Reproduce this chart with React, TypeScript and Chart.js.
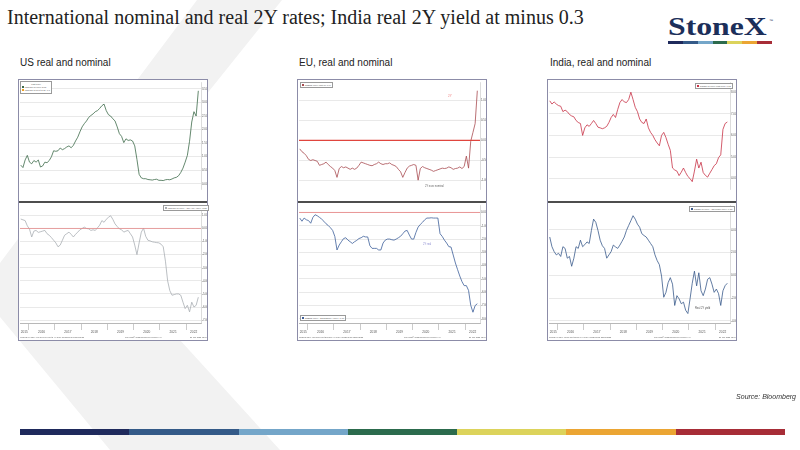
import { useEffect, useRef } from 'react';
import { Chart, registerables } from 'chart.js';

Chart.register(...registerables);

// monthly readings, Sep 2015 .. Jun 2022 (82 months)
const FIRST_MONTH = 2015 + 8 / 12 + 1 / 24;
const X_MIN = 2015.68;
const X_MAX = 2022.56;
const YEARS = [2015, 2016, 2017, 2018, 2019, 2020, 2021, 2022];

const usNominal = [
  0.69, 0.6, 0.88, 1.05,
  0.8, 0.74, 0.86, 0.8, 0.88, 0.62, 0.66, 0.8, 0.78, 0.86, 1.0, 1.22,
  1.2, 1.22, 1.32, 1.26, 1.3, 1.36, 1.4, 1.33, 1.42, 1.58, 1.72, 1.92,
  2.1, 2.22, 2.32, 2.45, 2.52, 2.58, 2.66, 2.7, 2.78, 2.88, 2.94, 2.7,
  2.55, 2.5, 2.4, 2.32, 2.1, 1.85, 1.75, 1.52, 1.66, 1.6, 1.62, 1.58,
  1.4, 0.9, 0.35, 0.22, 0.19, 0.19, 0.16, 0.15, 0.14, 0.16, 0.17, 0.13,
  0.13, 0.12, 0.15, 0.16, 0.15, 0.18, 0.22, 0.24, 0.3, 0.42, 0.58, 0.8,
  1.05, 1.57, 2.28, 2.66, 2.5, 3.43,
];
const usReal = [
  0.72, 0.66, 0.6, 0.2,
  -0.05, -0.65, -0.2, -0.15, -0.3, -0.25, -0.2, -0.15, -0.4, -0.52, -0.7, -0.9,
  -1.1, -1.4, -1.27, -0.9, -0.52, -0.4, -0.28, -0.45, -0.65, -0.45, -0.28, -0.1,
  0.0, 0.1, 0.0, -0.03, -0.15, -0.1, -0.15, 0.05, 0.25, 0.6, 0.47, 0.7,
  0.85, 0.97, 0.7, 0.35, 0.15, -0.03, -0.1, -0.28, -0.2, -0.15, -0.4, -0.65,
  -1.27, -2.0, -1.1, -0.28, 0.02, -0.6, -0.9, -0.95, -1.02, -1.05, -1.08, -1.1,
  -1.2, -1.4, -2.5, -4.0, -4.75, -5.1, -5.05, -5.0, -5.0, -5.1, -5.63, -6.12,
  -5.87, -6.37, -5.63, -6.0, -5.87, -5.25,
];
const euNominal = [
  -0.21, -0.28, -0.32, -0.38,
  -0.47, -0.5, -0.48, -0.5, -0.52, -0.62, -0.6, -0.58, -0.54, -0.6, -0.65, -0.69,
  -0.75, -0.92, -0.7, -0.65, -0.68, -0.66, -0.69, -0.72, -0.69, -0.72, -0.69, -0.62,
  -0.54, -0.56, -0.58, -0.6, -0.62, -0.63, -0.6, -0.58, -0.54, -0.58, -0.6, -0.58,
  -0.58, -0.56, -0.6, -0.62, -0.65, -0.72, -0.78, -0.92, -0.8, -0.69, -0.64, -0.62,
  -0.6, -0.62, -0.99, -0.7, -0.65, -0.68, -0.7, -0.72, -0.74, -0.77, -0.75, -0.73,
  -0.71, -0.69, -0.7, -0.69, -0.66, -0.68, -0.72, -0.7, -0.69, -0.66, -0.7, -0.65,
  -0.39, -0.69, -0.02, 0.2, 0.42, 1.24,
];
const euReal = [
  -0.42, -0.66, -0.42, -0.55,
  -0.61, -0.81, -0.37, -0.17, -0.25, -0.37, -0.5, -0.66, -0.85, -0.98, -1.15, -1.35,
  -1.8, -2.82, -2.45, -2.2, -1.96, -1.9, -2.08, -2.2, -2.33, -2.2, -2.1, -1.96,
  -1.9, -1.79, -1.84, -1.84, -2.5, -2.7, -2.7, -2.7, -2.82, -2.82, -2.3, -2.08,
  -2.0, -2.0, -2.05, -2.08, -2.0, -1.9, -1.79, -1.6, -1.4, -1.35, -1.7, -2.0,
  -2.0, -1.5, -1.1, -0.9, -0.74, -0.55, -0.42, -0.42, -0.4, -0.42, -0.42, -0.42,
  -1.6, -1.8, -2.08, -2.3, -2.57, -2.6, -3.2, -3.8, -4.3, -4.78, -5.2, -5.5,
  -5.5, -5.86, -6.98, -7.5, -7.0, -6.86,
];
const inNominal = [
  7.6, 7.45, 7.55, 7.45,
  7.38, 7.35, 7.1, 7.17, 7.1, 6.97, 6.9, 6.86, 6.69, 6.6, 6.55, 6.0,
  6.35, 6.49, 6.42, 6.55, 6.69, 6.55, 6.38, 6.35, 6.31, 6.35, 6.42, 6.6,
  6.83, 6.97, 6.83, 7.2, 7.52, 7.66, 7.55, 7.52, 7.66, 8.0, 7.66, 7.3,
  7.1, 6.76, 6.6, 6.55, 6.76, 6.35, 6.14, 6.0, 5.8, 5.65, 5.52, 6.0,
  6.14, 5.9, 5.59, 5.31, 4.49, 4.4, 4.35, 4.14, 4.3, 4.49, 4.28, 4.1,
  4.0, 3.86, 4.35, 4.9, 4.49, 4.76, 4.28, 4.15, 4.07, 4.25, 4.42, 4.6,
  4.69, 4.97, 5.1, 6.28, 6.55, 6.62,
];
const inReal = [
  3.37, 2.52, 2.09, 1.8,
  1.94, 1.66, 2.52, 2.37, 1.51, 1.66, 0.8, 1.51, 2.52, 2.37, 3.09, 2.52,
  2.7, 2.94, 2.8, 3.95, 4.94, 4.66, 3.95, 3.09, 2.6, 2.37, 1.51, 1.8,
  2.09, 2.66, 2.5, 2.37, 2.66, 3.0, 3.37, 3.95, 4.38, 4.8, 5.24, 4.94,
  4.5, 4.23, 3.66, 3.5, 3.37, 3.09, 2.8, 2.52, 1.8, 1.3, 0.94, -0.06,
  -1.92, -1.49, -0.64, -0.2, -0.77, -2.64, -1.78, -2.06, -2.49, -2.35, -3.06, -3.35,
  -2.06, -0.69, 0.37, -0.92, 0.23, -1.35, -1.78, -1.2, -0.34, -0.2, -0.77, -1.49,
  -1.2, -1.6, -2.64, -1.35, -0.9, -0.69,
];

const usNominalTicks = [0, 0.5, 1, 1.5, 2, 2.5, 3, 3.5];
const usRealTicks = [1, 0, -1, -2, -3, -4, -5, -6, -7];
const euNominalTicks = [1, 0.5, 0, -0.5, -1];
const euRealTicks = [0, -1, -2, -3, -4, -5, -6, -7, -8];
const inNominalTicks = [8, 7, 6, 5, 4];
const inRealTicks = [4, 2, 0, -2, -4];

const BAR_COLORS = ['#1f2a5c', '#345a88', '#74a6c9', '#2c6b4d', '#dcd35b', '#eba533', '#a72d37'];

interface PanelProps {
  values: number[];
  color: string;
  min: number;
  max: number;
  ticks: number[];
  height: number;
  showX?: boolean;
  refLine?: { value: number; color: string; width: number };
}

function Panel({ values, color, min, max, ticks, height, showX, refLine }: PanelProps) {
  const canvasRef = useRef<HTMLCanvasElement>(null);

  useEffect(() => {
    if (!canvasRef.current) return;
    const datasets: any[] = [];
    if (refLine) {
      datasets.push({
        data: [
          { x: X_MIN, y: refLine.value },
          { x: X_MAX, y: refLine.value },
        ],
        borderColor: refLine.color,
        borderWidth: refLine.width,
        pointRadius: 0,
      });
    }
    datasets.push({
      data: values.map((v, i) => ({ x: FIRST_MONTH + i / 12, y: v })),
      borderColor: color,
      borderWidth: 0.8,
      pointRadius: 0,
      tension: 0,
    });

    // year separators on whole years, labels centred in each visible year
    const xTicks: number[] = [];
    YEARS.forEach(y => {
      if (y > X_MIN) xTicks.push(y);
      xTicks.push((Math.max(y, X_MIN) + Math.min(y + 1, X_MAX)) / 2);
    });

    const chart = new Chart(canvasRef.current, {
      type: 'line',
      data: { datasets },
      options: {
        animation: false,
        responsive: false,
        plugins: { legend: { display: false }, tooltip: { enabled: false } },
        layout: { padding: { left: 1, right: 0, top: showX ? 0 : 1, bottom: showX ? 6 : 1 } },
        scales: {
          x: {
            type: 'linear',
            min: X_MIN,
            max: X_MAX,
            display: !!showX,
            afterBuildTicks: (scale: any) => {
              scale.ticks = xTicks.map(value => ({ value }));
            },
            afterFit: (scale: any) => {
              scale.height = 11;
            },
            grid: {
              drawOnChartArea: false,
              tickLength: 7,
              lineWidth: 0.6,
              color: (ctx: any) => (Number.isInteger(ctx.tick?.value) ? '#a8a8a8' : 'rgba(0,0,0,0)'),
            },
            border: { display: true, color: '#b8b8b8', dash: [1, 1], width: 1 },
            ticks: {
              autoSkip: false,
              maxRotation: 0,
              padding: 0,
              color: '#555',
              font: { size: 3.2, family: 'Liberation Sans' },
              callback: (v: any) => (Number.isInteger(v) ? '' : String(Math.floor(v))),
            },
          },
          y: {
            position: 'right',
            min,
            max,
            afterBuildTicks: (scale: any) => {
              scale.ticks = ticks.map(value => ({ value }));
            },
            afterFit: (scale: any) => {
              scale.width = 6;
            },
            grid: { color: '#dadada', lineWidth: 0.6, drawTicks: false },
            border: { display: true, color: '#c4c4c4', width: 0.6 },
            ticks: {
              padding: 1,
              color: '#555',
              font: { size: 2.8, family: 'Liberation Sans' },
              callback: (v: any) => Number(v).toFixed(2),
            },
          },
        },
      },
    });

    return () => {
      chart.destroy();
    };
  }, []);

  return <canvas ref={canvasRef} width={188} height={height} style={{ display: 'block', width: 188, height }} />;
}

function Tiny({ x, y, size = 2.2, color = '#666', children }: { x: number; y: number; size?: number; color?: string; children: any }) {
  return (
    <div
      style={{
        position: 'absolute',
        left: x,
        top: y,
        fontSize: size,
        lineHeight: `${size + 0.4}px`,
        color,
        whiteSpace: 'nowrap',
        fontFamily: 'Liberation Sans',
      }}
    >
      {children}
    </div>
  );
}

function LegendBox({ x, y, rows, title }: { x: number; y: number; title?: string; rows: { color: string; text: string }[] }) {
  return (
    <div
      style={{
        position: 'absolute',
        left: x,
        top: y,
        border: '0.5px solid #9a9a9a',
        background: '#fff',
        padding: '0.6px 1.2px',
        fontFamily: 'Liberation Sans',
        fontSize: 2.2,
        lineHeight: '3px',
        color: '#555',
        whiteSpace: 'nowrap',
      }}
    >
      {title && <div style={{ textAlign: 'center' }}>{title}</div>}
      {rows.map(r => (
        <div key={r.text}>
          <span style={{ display: 'inline-block', width: 1.6, height: 2.2, background: r.color, marginRight: 1 }} />
          {r.text}
        </div>
      ))}
    </div>
  );
}

interface BoxProps {
  left: number;
  upper: Omit<PanelProps, 'height'>;
  lower: Omit<PanelProps, 'height'>;
}

function BloombergBox({ left, upper, lower }: BoxProps) {
  return (
    <div
      style={{
        position: 'absolute',
        left,
        top: 79,
        width: 190,
        height: 262,
        boxSizing: 'border-box',
        border: '1px solid #8c8ca8',
        background: '#fff',
      }}
    >
      <Panel {...upper} height={121} />
      <div style={{ height: 2, background: '#4d4d4d' }} />
      <Panel {...lower} height={137} showX />
    </div>
  );
}

function Footer({ left, name }: { left: number; name: string }) {
  return (
    <>
      <Tiny x={left + 2} y={336} size={2}>{name}</Tiny>
      <Tiny x={left + 107} y={336} size={2}>Copyright© 2022 Bloomberg Finance L.P.</Tiny>
      <Tiny x={left + 172} y={336} size={2}>23-Jun-2022 12:24</Tiny>
    </>
  );
}

export default function App() {
  return (
    <div
      style={{
        position: 'absolute',
        left: 0,
        top: 0,
        width: 800,
        height: 450,
        overflow: 'hidden',
        background: '#fff',
        fontFamily: 'Liberation Sans',
      }}
    >
      <svg width={800} height={450} style={{ position: 'absolute', left: 0, top: 0 }}>
        <polygon points="197,0 282,0 89.5,240.6 280,450 110,450 0,317 0,263" fill="#f2f2f2" />
      </svg>

      <div
        style={{
          position: 'absolute',
          left: 7,
          top: 7,
          fontFamily: 'Liberation Serif',
          fontSize: 20,
          lineHeight: '20px',
          color: '#222',
          whiteSpace: 'nowrap',
        }}
      >
        International nominal and real 2Y rates; India real 2Y yield at minus 0.3
      </div>

      <div
        style={{
          position: 'absolute',
          left: 668,
          top: 14,
          fontFamily: 'Liberation Serif',
          fontWeight: 700,
          fontSize: 25,
          lineHeight: '25px',
          color: '#1c2f5a',
          transform: 'scaleX(1.27)',
          transformOrigin: 'left top',
          whiteSpace: 'nowrap',
        }}
      >
        StoneX
      </div>
      <Tiny x={769} y={19} size={4} color="#1c2f5a">™</Tiny>
      <div style={{ position: 'absolute', left: 668, top: 41, width: 104, height: 3, display: 'flex' }}>
        {BAR_COLORS.map(c => (
          <div key={c} style={{ flex: 1, background: c }} />
        ))}
      </div>

      {[
        { x: 20, t: 'US real and nominal' },
        { x: 299, t: 'EU, real and nominal' },
        { x: 550, t: 'India, real and nominal' },
      ].map(s => (
        <div
          key={s.t}
          style={{ position: 'absolute', left: s.x, top: 58, fontSize: 10, lineHeight: '10px', color: '#222', whiteSpace: 'nowrap' }}
        >
          {s.t}
        </div>
      ))}

      <BloombergBox
        left={18}
        upper={{ values: usNominal, color: '#3d6b4a', min: -0.19, max: 3.73, ticks: usNominalTicks }}
        lower={{
          values: usReal,
          color: '#a9aeb4',
          min: -7.22,
          max: 1.74,
          ticks: usRealTicks,
          refLine: { value: 0, color: '#e58a8a', width: 0.8 },
        }}
      />
      <BloombergBox
        left={297}
        upper={{
          values: euNominal,
          color: '#a84b50',
          min: -1.21,
          max: 1.44,
          ticks: euNominalTicks,
          refLine: { value: 0, color: '#e0453e', width: 1.3 },
        }}
        lower={{
          values: euReal,
          color: '#3d5f9a',
          min: -8.31,
          max: 0.51,
          ticks: euRealTicks,
          refLine: { value: 0, color: '#e88080', width: 0.8 },
        }}
      />
      <BloombergBox
        left={547}
        upper={{ values: inNominal, color: '#c83246', min: 3.52, max: 8.44, ticks: inNominalTicks }}
        lower={{ values: inReal, color: '#3a5a8c', min: -4.18, max: 6.12, ticks: inRealTicks }}
      />

      <LegendBox
        x={20}
        y={81}
        title="Last Price"
        rows={[
          { color: '#3d6b4a', text: 'USGG2YR Index  3.05' },
          { color: '#f0a020', text: 'USGG2YR Govt  3.05  -0.1' },
        ]}
      />
      <LegendBox x={163} y={205} rows={[{ color: '#a9aeb4', text: 'USGG2YR Index - CPI YOY Index  -5.25' }]} />
      <LegendBox x={300} y={82} rows={[{ color: '#a84b50', text: 'GDBR2 Index  Last Px 1.09' }]} />
      <LegendBox x={300} y={315} rows={[{ color: '#3d5f9a', text: 'GDBR2 Index - ECCPEMUY Index  -6.86' }]} />
      <LegendBox x={695} y={83} rows={[{ color: '#c83246', text: 'GIND2YR Index  Last Price 6.62' }]} />
      <LegendBox x={689} y={206} rows={[{ color: '#3a5a8c', text: 'GIND2YR Index - INFUTOT Index  -0.30' }]} />

      <Tiny x={448} y={95} size={3} color="#f08080">2Y</Tiny>
      <Tiny x={425} y={185} size={2.6} color="#666">2Y euro nominal</Tiny>
      <Tiny x={423} y={243} size={2.6} color="#8a8ad0">2Y real</Tiny>
      <Tiny x={695} y={307} size={2.6} color="#555">Real 2Y yield</Tiny>

      <Footer left={18} name="USGG2YR Index (US Generic Govt 2 Yr) Daily 30SEP2015-22JUN2022" />
      <Footer left={297} name="GDBR2 Index (German Govt Bonds 2 Yr) Daily 30SEP2015-22JUN2022" />
      <Footer left={547} name="GIND2YR Index (India Govt Bond 2 Yr) Daily 30SEP2015-22JUN2022" />

      <div
        style={{
          position: 'absolute',
          right: 4,
          top: 393,
          fontSize: 7,
          lineHeight: '8px',
          fontStyle: 'italic',
          color: '#333',
        }}
      >
        Source: Bloomberg
      </div>

      <div style={{ position: 'absolute', left: 20, top: 429, width: 765, height: 6, display: 'flex' }}>
        {BAR_COLORS.map(c => (
          <div key={c} style={{ flex: 1, background: c }} />
        ))}
      </div>
    </div>
  );
}
